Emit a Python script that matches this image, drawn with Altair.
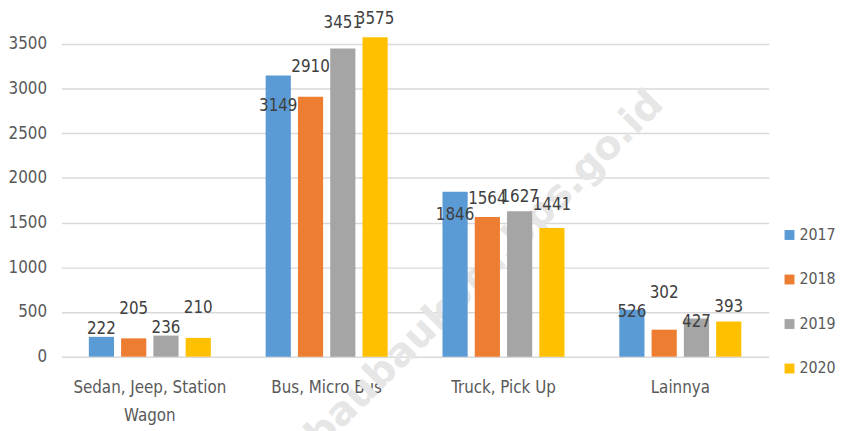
import altair as alt
import pandas as pd

categories = ["Sedan, Jeep, Station Wagon", "Bus, Micro Bus", "Truck, Pick Up", "Lainnya"]
years = ["2017", "2018", "2019", "2020"]
values_2017 = [222, 3149, 1846, 526]
values_2018 = [205, 2910, 1564, 302]
values_2019 = [236, 3451, 1627, 427]
values_2020 = [210, 3575, 1441, 393]
colors = ["#5B9BD5", "#ED7D31", "#A5A5A5", "#FFC000"]
y_ticks = [0, 500, 1000, 1500, 2000, 2500, 3000, 3500]
watermark = "baubaukota.bps.go.id"

# pixel nudges of the data labels (style only), mimicking the manual Excel placement
label_dy_2017 = [-8, 31, 24, 2]
label_dy_2018 = [-30, -30, -18, -37]
label_dy_2019 = [-8, -26, -14, 4]
label_dy_2020 = [-30, -18, -23, -15]

Y_MAX = 3854
PLOT_H = 348
PLOT_W = 715

series = [values_2017, values_2018, values_2019, values_2020]
nudges = [label_dy_2017, label_dy_2018, label_dy_2019, label_dy_2020]
rows = []
for yr, vals, dys in zip(years, series, nudges):
    for cat, v, d in zip(categories, vals, dys):
        rows.append({"category": cat, "year": yr, "value": v, "dy": d})
df = pd.DataFrame(rows)

FONT = "DejaVu Sans Condensed, Liberation Sans Narrow, sans-serif"

y_scale = alt.Scale(domain=[0, Y_MAX], nice=False)
y_axis = alt.Axis(
    title=None,
    values=y_ticks,
    format="d",
    domain=False,
    ticks=False,
    grid=True,
    gridColor="#d9d9d9",
    gridWidth=1.5,
    labelFont=FONT,
    labelFontSize=17,
    labelColor="#595959",
    labelPadding=15,
    minExtent=50,
    maxExtent=50,
)

x_enc = alt.X(
    "category:N",
    sort=categories,
    scale=alt.Scale(paddingInner=0.31, paddingOuter=0.155),
    axis=alt.Axis(
        title=None,
        domain=False,
        ticks=False,
        labelAngle=0,
        labelFont=FONT,
        labelFontSize=17,
        labelColor="#595959",
        labelPadding=23,
        labelLineHeight=29,
        labelExpr="datum.value == 'Sedan, Jeep, Station Wagon' ? ['Sedan, Jeep, Station', 'Wagon'] : datum.value",
    ),
)
xo_enc = alt.XOffset("year:N", sort=years, scale=alt.Scale(paddingInner=0.22, paddingOuter=0))

base = alt.Chart(df)

wm = alt.Chart(pd.DataFrame({"t": [watermark]})).mark_text(
    angle=315,
    fontSize=40,
    fontWeight="bold",
    font="DejaVu Sans, sans-serif",
    color="#e6e6e6",
    baseline="middle",
).encode(x=alt.value(428), y=alt.value(260), text="t:N")

bars = base.mark_bar().encode(
    x=x_enc,
    xOffset=xo_enc,
    y=alt.Y("value:Q", scale=y_scale, axis=y_axis),
    color=alt.Color(
        "year:N",
        sort=years,
        scale=alt.Scale(domain=years, range=colors),
        legend=alt.Legend(
            title=None,
            orient="none",
            legendX=728,
            legendY=217,
            padding=0,
            symbolType="square",
            symbolSize=100,
            symbolStrokeWidth=0,
            labelFont=FONT,
            labelFontSize=16,
            labelColor="#595959",
            labelOffset=2,
            rowPadding=29,
        ),
    ),
)

labels = base.transform_calculate(
    label_y=f"datum.value - datum.dy * {Y_MAX} / {PLOT_H}"
).mark_text(
    font=FONT, fontSize=17, color="#404040", baseline="middle"
).encode(
    x=x_enc,
    xOffset=xo_enc,
    y=alt.Y("label_y:Q", scale=y_scale, axis=y_axis),
    text="value:Q",
)

chart = alt.layer(wm, bars, labels).properties(
    width=PLOT_W, height=PLOT_H, padding=0
).configure_view(stroke=None)

chart.save("out.html", embed_options={"renderer": "svg", "actions": False})
